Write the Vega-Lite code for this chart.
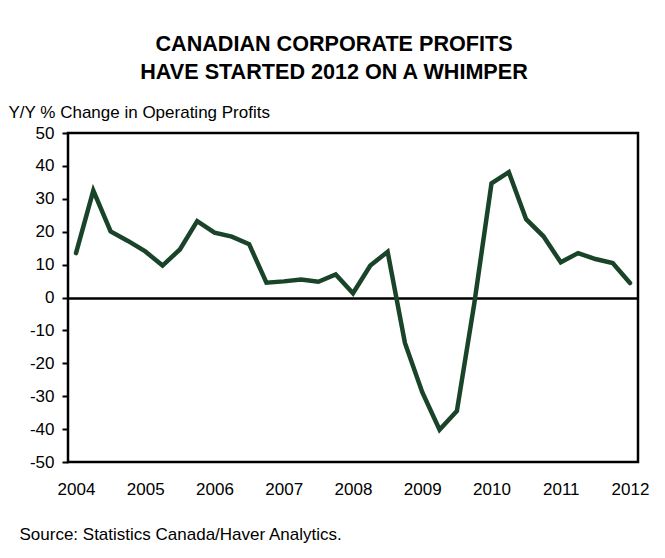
{
  "$schema": "https://vega.github.io/schema/vega-lite/v6.json",
  "width": 570,
  "height": 329,
  "autosize": {"type": "none"},
  "padding": {"left": 68, "top": 133, "right": 27, "bottom": 96},
  "background": "white",
  "config": {
    "font": "Liberation Sans",
    "view": {"stroke": "black", "strokeWidth": 2.5},
    "axis": {"labelColor": "black", "titleColor": "black", "grid": false, "labelOverlap": false}
  },
  "title": {
    "text": ["CANADIAN CORPORATE PROFITS", "HAVE STARTED 2012 ON A WHIMPER"],
    "font": "Liberation Sans",
    "fontSize": 21.6,
    "fontWeight": "bold",
    "color": "black",
    "anchor": "middle",
    "dx": -19,
    "lineHeight": 28,
    "offset": 19.5
  },
  "data": {
    "values": [
      {"t": 2004.0, "v": 13.5},
      {"t": 2004.25, "v": 32.5},
      {"t": 2004.5, "v": 20.1},
      {"t": 2004.75, "v": 17.2},
      {"t": 2005.0, "v": 14.0},
      {"t": 2005.25, "v": 9.7},
      {"t": 2005.5, "v": 14.6},
      {"t": 2005.75, "v": 23.2},
      {"t": 2006.0, "v": 19.7},
      {"t": 2006.25, "v": 18.5},
      {"t": 2006.5, "v": 16.2},
      {"t": 2006.75, "v": 4.5},
      {"t": 2007.0, "v": 4.9},
      {"t": 2007.25, "v": 5.5},
      {"t": 2007.5, "v": 4.8},
      {"t": 2007.75, "v": 7.0},
      {"t": 2008.0, "v": 1.3},
      {"t": 2008.25, "v": 9.7},
      {"t": 2008.5, "v": 13.9},
      {"t": 2008.75, "v": -13.8},
      {"t": 2009.0, "v": -28.8},
      {"t": 2009.25, "v": -40.2},
      {"t": 2009.5, "v": -34.5},
      {"t": 2009.75, "v": -2.0},
      {"t": 2010.0, "v": 34.7},
      {"t": 2010.25, "v": 38.1},
      {"t": 2010.5, "v": 23.8},
      {"t": 2010.75, "v": 18.6},
      {"t": 2011.0, "v": 10.7},
      {"t": 2011.25, "v": 13.5},
      {"t": 2011.5, "v": 11.7},
      {"t": 2011.75, "v": 10.5},
      {"t": 2012.0, "v": 4.4}
    ]
  },
  "mark": {"type": "line", "color": "#1a4429", "strokeWidth": 4.5, "strokeJoin": "miter", "strokeCap": "round"},
  "encoding": {
    "x": {
      "field": "t",
      "type": "quantitative",
      "scale": {"domain": [2003.8845, 2012.1155], "nice": false, "zero": false},
      "axis": {
        "values": [2004, 2005, 2006, 2007, 2008, 2009, 2010, 2011, 2012],
        "format": "d",
        "ticks": false,
        "domain": false,
        "labelFontSize": 17,
        "labelPadding": 19,
        "labelFlush": false,
        "labelOverlap": false,
        "title": "Source: Statistics Canada/Haver Analytics.",
        "titleFontSize": 17,
        "titleFontWeight": "normal",
        "titleX": -49,
        "titleY": 77,
        "titleAlign": "left",
        "titleBaseline": "alphabetic",
        "titleAnchor": "start"
      }
    },
    "y": {
      "field": "v",
      "type": "quantitative",
      "scale": {"domain": [-50, 50], "nice": false},
      "axis": {
        "values": [-50, -40, -30, -20, -10, 0, 10, 20, 30, 40, 50],
        "labelExpr": "'' + datum.value",
        "domain": false,
        "ticks": true,
        "tickSize": 6,
        "tickWidth": 2,
        "tickColor": "black",
        "grid": true,
        "gridColor": {"condition": {"test": "datum.value === 0", "value": "black"}, "value": "transparent"},
        "gridWidth": 2.5,
        "gridOpacity": 1,
        "labelFontSize": 17,
        "labelPadding": 8,
        "labelFlush": false,
        "labelOverlap": false,
        "title": "Y/Y % Change in Operating Profits",
        "titleFontSize": 17,
        "titleFontWeight": "normal",
        "titleAngle": 0,
        "titleX": -60,
        "titleY": -16,
        "titleAlign": "left",
        "titleBaseline": "alphabetic",
        "titleAnchor": "start"
      }
    }
  }
}
